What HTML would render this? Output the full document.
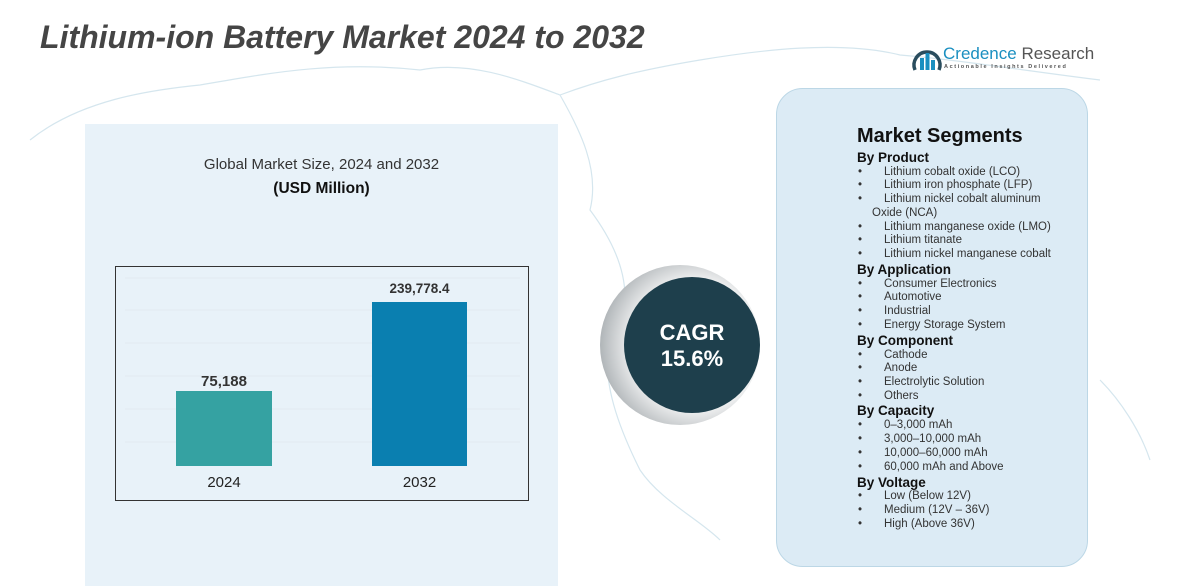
<!DOCTYPE html>
<html><head><meta charset="utf-8"><style>
*{margin:0;padding:0;box-sizing:border-box}
body{width:1198px;height:586px;background:#fff;position:relative;overflow:hidden;font-family:"Liberation Sans",sans-serif}
.a{position:absolute;white-space:nowrap}
.t{font-size:11.5px;color:#333;line-height:14px;padding-left:27px}
.t::before{content:"•";position:absolute;left:1px;top:0}
.h{font-size:13.5px;font-weight:bold;color:#111;line-height:14px}
</style></head><body>
<svg class="a" style="left:0;top:0" width="1198" height="586">
<defs><radialGradient id="g" cx="0.6" cy="0.5" r="0.6"><stop offset="0.6" stop-color="#ffffff"/><stop offset="1" stop-color="#b0b5b8"/></radialGradient></defs>
<g fill="none" stroke="#d5e6ee" stroke-width="1.2">
<path d="M30 140 C80 100 150 90 200 85 C260 75 330 60 420 70 C470 60 520 80 560 95 C600 80 640 70 700 60 C760 50 840 40 900 55 C960 60 1020 70 1100 80"/>
<path d="M560 95 C580 130 600 170 590 210 C620 250 640 300 610 340 C600 380 620 430 640 470 C660 500 700 520 720 540"/>
<path d="M1100 380 C1120 400 1140 430 1150 460"/>
</g>
<rect x="85" y="124" width="473" height="462" fill="#e8f2f9"/>
<rect x="115.5" y="266.5" width="413" height="234" fill="none" stroke="#333" stroke-width="1"/>
<g stroke="#e2ebf1" stroke-width="1">
<line x1="125" y1="278" x2="520" y2="278"/><line x1="125" y1="310" x2="520" y2="310"/>
<line x1="125" y1="343" x2="520" y2="343"/><line x1="125" y1="376" x2="520" y2="376"/>
<line x1="125" y1="409" x2="520" y2="409"/><line x1="125" y1="442" x2="520" y2="442"/>
</g>
<rect x="176" y="391" width="96" height="75" fill="#35a2a2"/>
<rect x="372" y="302" width="95" height="164" fill="#0a7fb0"/>
<circle cx="680" cy="345" r="80" fill="url(#g)"/>
<circle cx="692" cy="345" r="68" fill="#1e3f4c"/>
<rect x="776.5" y="88.5" width="311" height="478" rx="26" fill="#dcebf5" stroke="#bcd7e6"/>
<g transform="translate(911,44)">
<path d="M4 26 A13 13 0 1 1 28 26" fill="none" stroke="#2a4d5e" stroke-width="3.5"/>
<rect x="9" y="14" width="4" height="12" fill="#1a8fc0"/><rect x="14.5" y="9" width="4" height="17" fill="#1a8fc0"/><rect x="20" y="16" width="4" height="10" fill="#1a8fc0"/>
</g>
</svg>
<div class="a" style="left:40px;top:19px;font-size:32px;font-weight:bold;font-style:italic;color:#454545">Lithium-ion Battery Market 2024 to 2032</div>
<div class="a" style="left:943px;top:44px;font-size:17px;color:#1a8fc0">Credence <span style="color:#555">Research</span></div>
<div class="a" style="left:944px;top:64px;font-size:5.5px;color:#555;letter-spacing:1.6px;font-weight:bold">Actionable Insights Delivered</div>
<div class="a" style="left:85px;width:473px;top:156px;text-align:center;font-size:15px;color:#333">Global Market Size, 2024 and 2032</div>
<div class="a" style="left:85px;width:473px;top:180px;text-align:center;font-size:15.5px;font-weight:bold;color:#111">(USD Million)</div>
<div class="a" style="left:176px;width:96px;top:373px;text-align:center;font-size:15px;font-weight:bold;color:#333">75,188</div>
<div class="a" style="left:352px;width:135px;top:281px;text-align:center;font-size:13.5px;font-weight:bold;color:#333">239,778.4</div>
<div class="a" style="left:176px;width:96px;top:474px;text-align:center;font-size:15px;color:#222">2024</div>
<div class="a" style="left:372px;width:95px;top:474px;text-align:center;font-size:15px;color:#222">2032</div>
<div class="a" style="left:624px;width:136px;top:320px;text-align:center;font-size:22px;font-weight:bold;color:#fff;line-height:26px">CAGR<br>15.6%</div>
<div class="a" style="left:857px;top:125px;font-size:20px;font-weight:bold;color:#111">Market Segments</div>
<div class="a h" style="left:857px;top:151px">By Product</div>
<div class="a t" style="left:857px;top:165px">Lithium cobalt oxide (LCO)</div>
<div class="a t" style="left:857px;top:178px">Lithium iron phosphate (LFP)</div>
<div class="a t" style="left:857px;top:192px">Lithium nickel cobalt aluminum</div>
<div class="a" style="left:872px;top:206px;font-size:11.5px;color:#333;line-height:14px">Oxide (NCA)</div>
<div class="a t" style="left:857px;top:220px">Lithium manganese oxide (LMO)</div>
<div class="a t" style="left:857px;top:233px">Lithium titanate</div>
<div class="a t" style="left:857px;top:247px">Lithium nickel manganese cobalt</div>
<div class="a h" style="left:857px;top:263px">By Application</div>
<div class="a t" style="left:857px;top:277px">Consumer Electronics</div>
<div class="a t" style="left:857px;top:290px">Automotive</div>
<div class="a t" style="left:857px;top:304px">Industrial</div>
<div class="a t" style="left:857px;top:318px">Energy Storage System</div>
<div class="a h" style="left:857px;top:334px">By Component</div>
<div class="a t" style="left:857px;top:348px">Cathode</div>
<div class="a t" style="left:857px;top:361px">Anode</div>
<div class="a t" style="left:857px;top:375px">Electrolytic Solution</div>
<div class="a t" style="left:857px;top:389px">Others</div>
<div class="a h" style="left:857px;top:404px">By Capacity</div>
<div class="a t" style="left:857px;top:418px">0–3,000 mAh</div>
<div class="a t" style="left:857px;top:432px">3,000–10,000 mAh</div>
<div class="a t" style="left:857px;top:446px">10,000–60,000 mAh</div>
<div class="a t" style="left:857px;top:460px">60,000 mAh and Above</div>
<div class="a h" style="left:857px;top:476px">By Voltage</div>
<div class="a t" style="left:857px;top:489px">Low (Below 12V)</div>
<div class="a t" style="left:857px;top:503px">Medium (12V – 36V)</div>
<div class="a t" style="left:857px;top:517px">High (Above 36V)</div>
</body></html>
